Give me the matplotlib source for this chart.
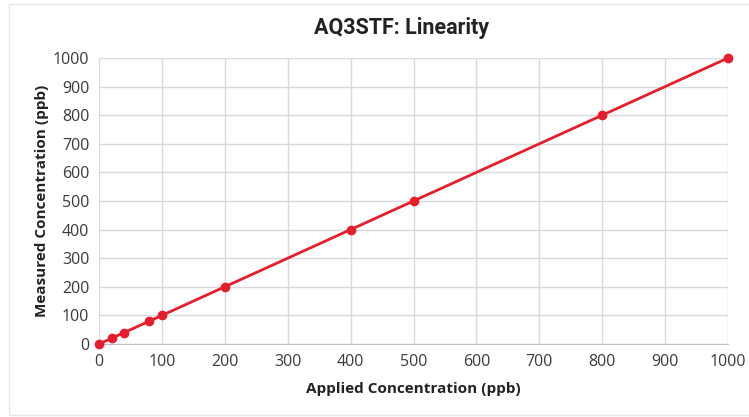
import matplotlib
matplotlib.use("Agg")
import matplotlib.pyplot as plt
from matplotlib.patches import Rectangle

applied = [0, 20, 40, 80, 100, 200, 400, 500, 800, 1000]
measured = [0, 20, 40, 80, 100, 200, 400, 500, 800, 1000]
ticks = [0, 100, 200, 300, 400, 500, 600, 700, 800, 900, 1000]

plt.rcParams['font.family'] = ['Open Sans', 'DejaVu Sans']

fig = plt.figure(figsize=(7.49, 4.17), dpi=100)
fig.patches.append(Rectangle((9/749, 1-415/417), 1, 411/417, transform=fig.transFigure,
                             fill=False, edgecolor='#e6e6e6', linewidth=1))
ax = fig.add_axes([99/749, 1-344/417, 629/749, 286/417])

ax.plot(applied, measured, color='#E21F2D', linewidth=2, marker='o', markersize=6, zorder=3, clip_on=False)
ax.set_xlim(0, 1000)
ax.set_ylim(0, 1000)
ax.set_xticks(ticks)
ax.set_yticks(ticks)
ax.grid(True, color='#d9d9d9', linewidth=1)
ax.set_axisbelow(True)
for s in ['top', 'right', 'left']:
    ax.spines[s].set_visible(False)
ax.spines['bottom'].set_color('#bfbfbf')
ax.tick_params(length=0, labelsize=11.5, colors='#3a3a3a', pad=7)

ax.set_xlabel('Applied Concentration (ppb)', fontsize=11, fontweight='bold', color='#222222', labelpad=9)
ax.set_ylabel('Measured Concentration (ppb)', fontsize=11, fontweight='bold', color='#222222', labelpad=3)
fig.text(0.536, 1-28/417, 'AQ3STF: Linearity', ha='center', va='center', fontsize=15.5,
         fontweight='bold', color='#222222', family=['Roboto', 'DejaVu Sans'])

fig.savefig('out.png', dpi=100)
